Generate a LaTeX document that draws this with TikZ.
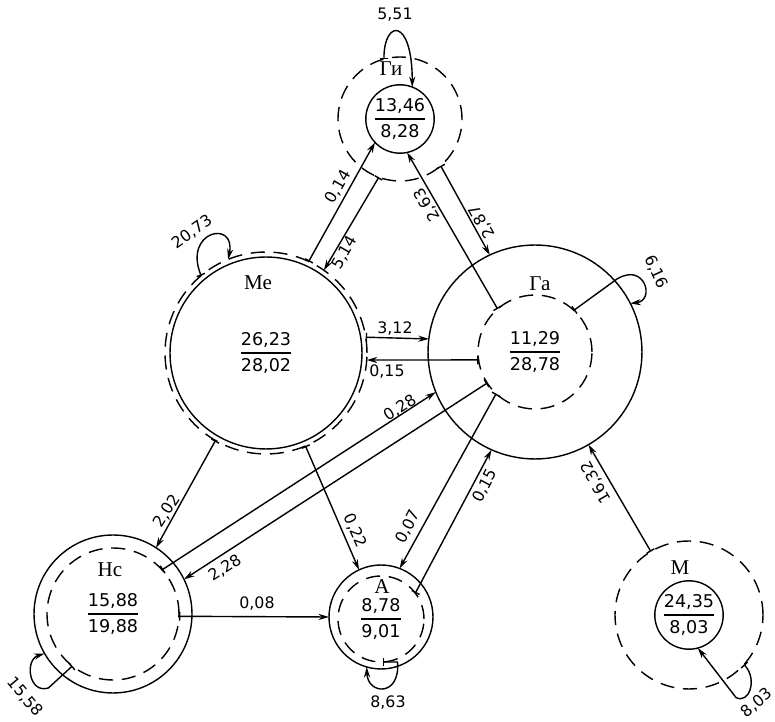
\documentclass[tikz,border=0pt]{standalone}
\usepackage{amsmath}
\usepackage{fontspec}
\setmainfont{DejaVu Sans}
\newfontfamily\cyrfont{Liberation Serif}
\usetikzlibrary{arrows.meta,calc}
\newcommand{\pairfrac}[2]{$\genfrac{}{}{0.9pt}{0}{\text{#1}}{\text{#2}}$}
\tikzset{
  ring/.style={circle, draw, line width=0.8pt, inner sep=0pt, outer sep=0pt},
  dashring/.style={ring, dash pattern=on 8pt off 5pt},
  flow/.style={arrows={Bar[width=5pt]-Stealth[length=6pt,width=3.5pt]}, line width=0.8pt},
  val/.style={font=\fontsize{9}{10}\selectfont, inner sep=1pt},
  num/.style={font=\fontsize{10}{12}\selectfont},
  taxon/.style={font=\cyrfont\fontsize{12}{13}\selectfont, inner sep=1pt}
}
\begin{document}
\begin{tikzpicture}[x=0.02cm, y=-0.02cm]
  \useasboundingbox (0,0) rectangle (775,722);

  % Gi (top)
  \node[ring, minimum size=1.36cm, num] (gi) at (400,119) {\pairfrac{13,46}{8,28}};
  \node[dashring, minimum size=2.48cm] (gio) at (400,119) {};
  \node[taxon] (gilab) at (391,69) {Ги};

  % Me (left, large)
  \node[ring, minimum size=3.84cm, num] (me) at (266,353) {\pairfrac{26,23}{28,02}};
  \node[dashring, minimum size=4.04cm] (meo) at (266,353) {};
  \node[taxon] (melab) at (258,283) {Ме};

  % Ga (right, large)
  \node[ring, minimum size=4.28cm] (ga) at (535,352) {};
  \node[dashring, minimum size=2.28cm, num] (gain) at (535,352) {\pairfrac{11,29}{28,78}};
  \node[taxon] (galab) at (540,284) {Га};

  % Kc (bottom left)
  \node[ring, minimum size=3.16cm] (kc) at (113,614) {};
  \node[dashring, minimum size=2.64cm, num] (kcin) at (113,614) {\pairfrac{15,88}{19,88}};
  \node[taxon] (kclab) at (110,570) {Нс};

  % A (bottom middle)
  \node[ring, minimum size=2.08cm] (a) at (381,617) {};
  \node[dashring, minimum size=1.72cm, num] (ain) at (381,619) {\pairfrac{8,78}{9,01}};
  \node[taxon] (alab) at (382,587) {А};

  % M (bottom right)
  \node[ring, minimum size=1.36cm, num] (m) at (689,615) {\pairfrac{24,35}{8,03}};
  \node[dashring, minimum size=2.96cm] (mo) at (689,615) {};
  \node[taxon] (mlab) at (680,568) {М};

  % Flows between the pools
  \draw[flow] (meo.65) -- (gi.223);
  \draw[flow] (gio.250) -- (meo.55);
  \draw[flow] (gain.131) -- (gi.282);
  \draw[flow] (gio.311) -- (ga.115);
  \draw[flow] (meo.9) -- (ga.173);
  \draw[flow] (gain.188) -- (meo.356);
  \draw[flow] (kcin.42) -- (ga.202);
  \draw[flow] (gain.213) -- (kc.26);
  \draw[flow] (meo.240) -- (kc.57);
  \draw[flow] (meo.293) -- (a.115);
  \draw[flow] (gain.227) -- (a.69);
  \draw[flow] (ain.37) -- (ga.246);
  \draw[flow] (kcin.358) -- (a.180);
  \draw[flow] (mo.121) -- (ga.300);

  % Self loops
  \draw[flow] (gio.105) .. controls ($(gio.105)+(0,-40)$) and ($(gi.69)+(0,-70)$) .. (gi.69);
  \draw[flow] (meo.130) .. controls ($(meo.130)+(-18,-45)$) and ($(meo.112)+(8,-40)$) .. (meo.112);
  \draw[flow] (gain.47) -- ($(ga.center)+(82,-73)$)
    .. controls ($(ga.center)+(110,-90)$) and ($(ga.27)+(25,-3)$) .. (ga.27);
  \draw[flow] (kcin.232) -- ($(kcin.232)+(-24,22)$)
    .. controls ($(kcin.232)+(-44,28)$) and ($(kc.210)+(-20,6)$) .. (kc.210);
  \draw[flow] (ain.272) -- ($(ain.272)+(15,0)$)
    .. controls ($(ain.272)+(18,35)$) and ($(a.254)+(1,28)$) .. (a.254);
  \draw[flow] (mo.318) .. controls ($(mo.318)+(14,15)$) and ($(mo.318)+(5,40)$) .. ($(mo.318)+(-8,33)$) -- (m.285);

  % Flow values
  \node[val, rotate=60] (l014) at (338,187) {0,14};
  \node[val, rotate=60] (l514) at (345,253) {5,14};
  \node[val, rotate=120] (l263) at (427,205) {2,63};
  \node[val, rotate=120] (l287) at (482,222) {2,87};
  \node[val] (l312) at (395,329) {3,12};
  \node[val] (l015a) at (387,372) {0,15};
  \node[val, rotate=33] (l028) at (400,408) {0,28};
  \node[val, rotate=33] (l228) at (225,568) {2,28};
  \node[val, rotate=57] (l202) at (167,511) {2,02};
  \node[val, rotate=-66] (l022) at (355,531) {0,22};
  \node[val, rotate=62] (l007) at (408,527) {0,07};
  \node[val, rotate=62] (l015b) at (485,486) {0,15};
  \node[val] (l008) at (257,604) {0,08};
  \node[val, rotate=120] (l1632) at (596,482) {16,32};
  \node[val] (l551) at (395,15) {5,51};
  \node[val, rotate=35] (l2073) at (192,232) {20,73};
  \node[val, rotate=-65] (l616) at (656,272) {6,16};
  \node[val, rotate=-50] (l1558) at (25,697) {15,58};
  \node[val] (l863) at (388,703) {8,63};
  \node[val, rotate=40] (l803) at (757,703) {8,03};

\end{tikzpicture}
\end{document}
